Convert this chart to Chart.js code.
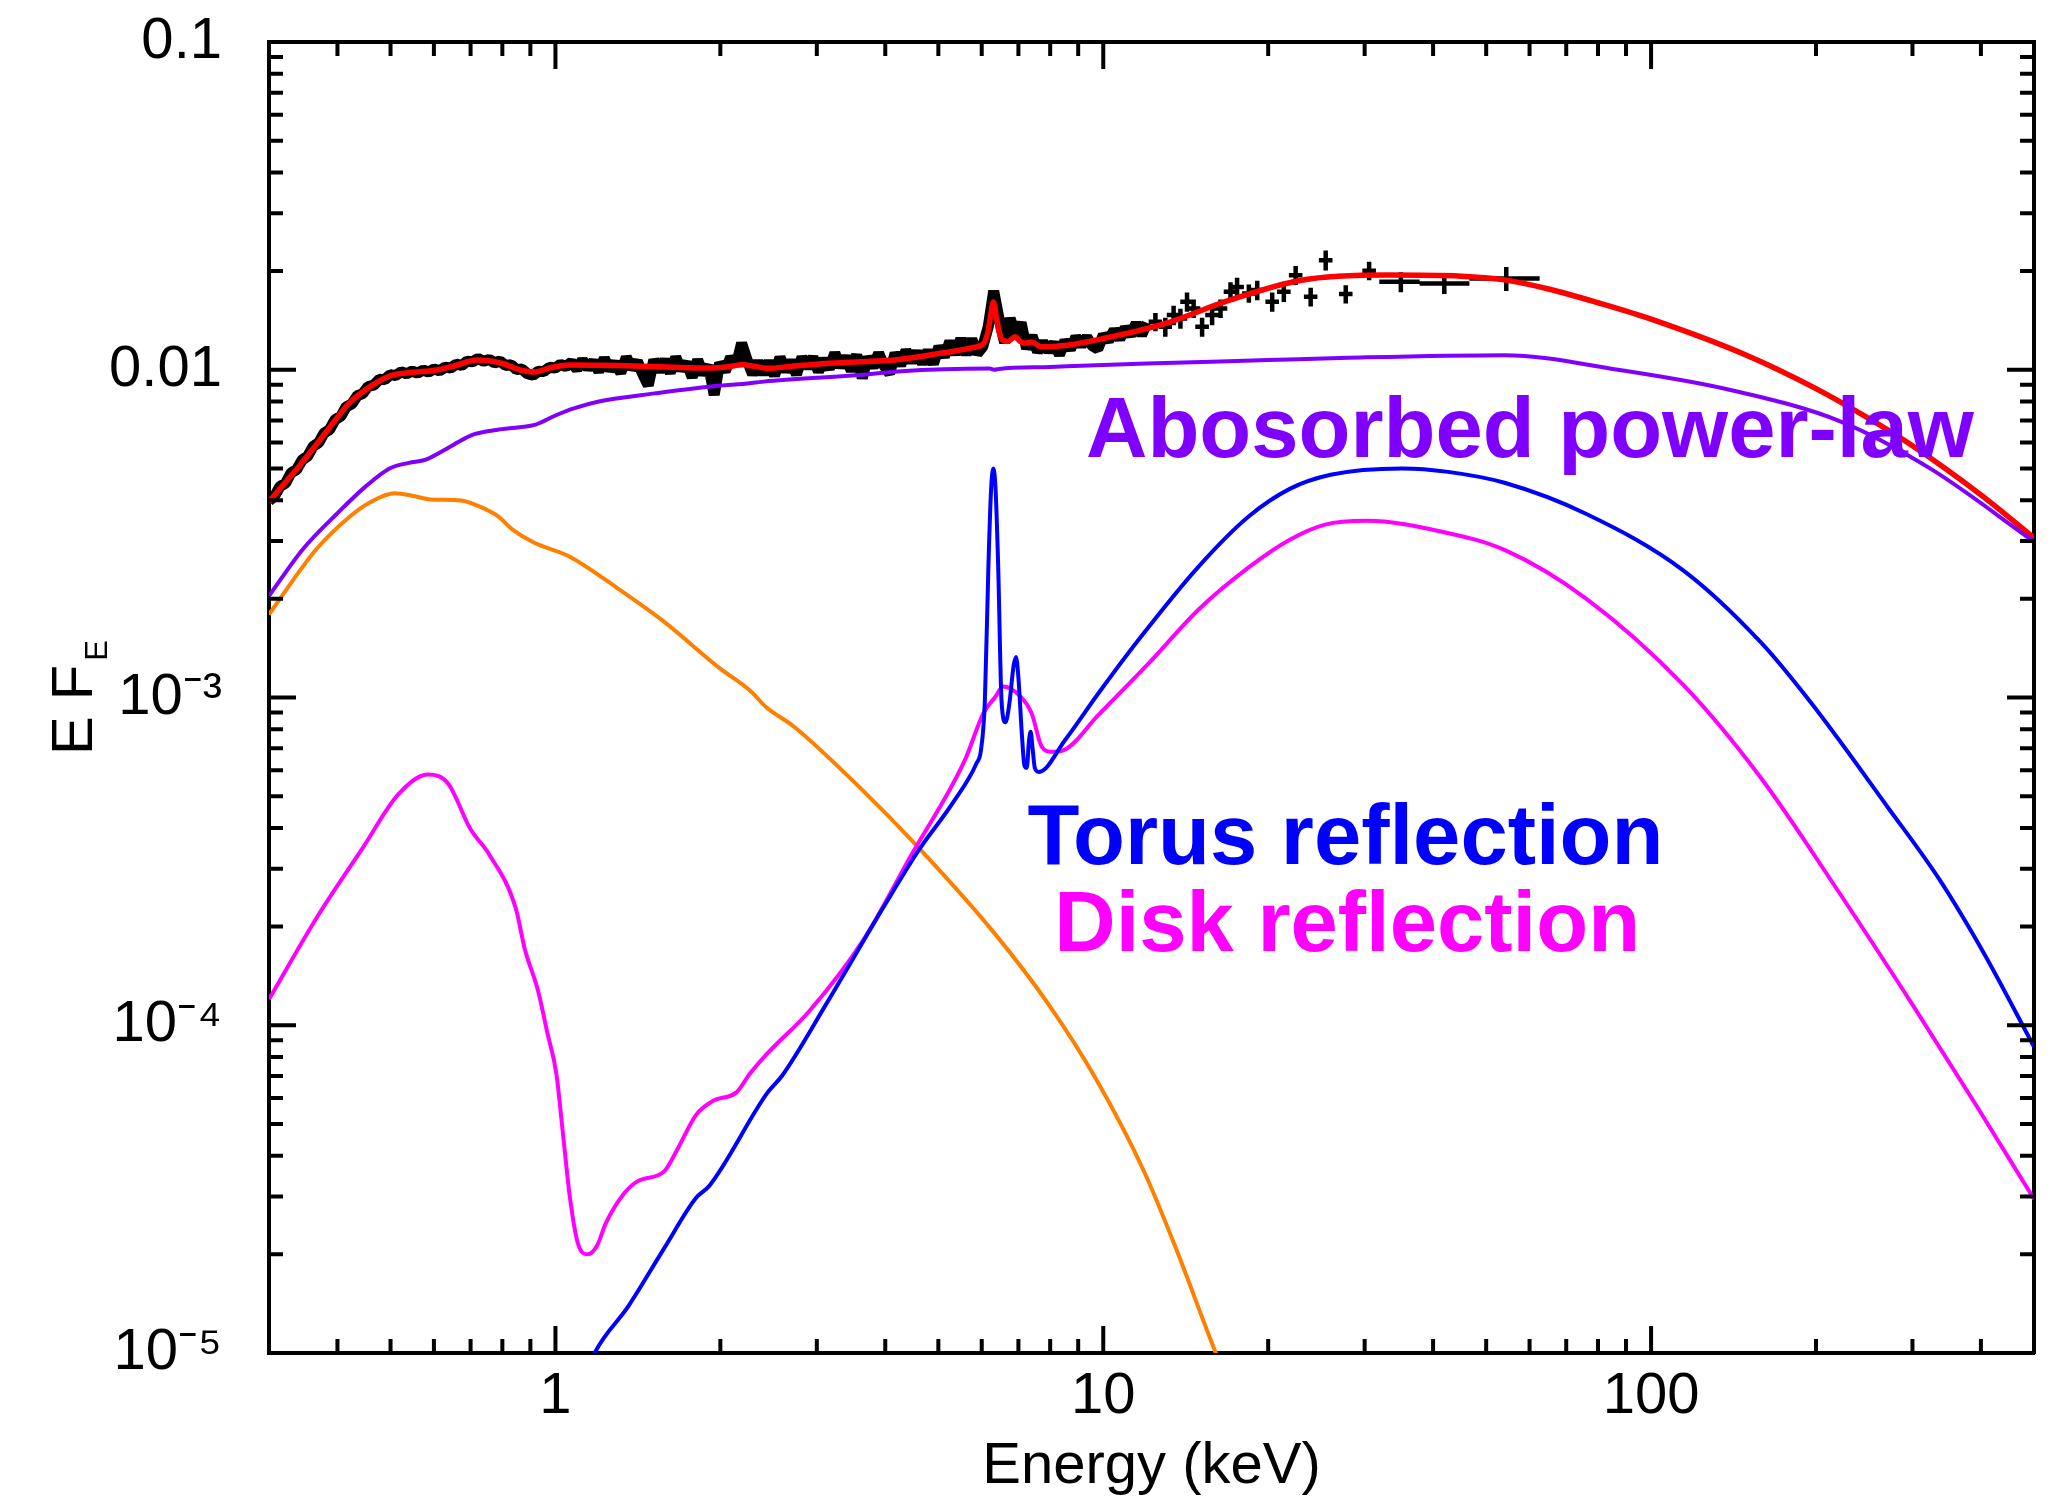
<!DOCTYPE html>
<html>
<head>
<meta charset="utf-8">
<title>Broadband X-ray spectrum: model components</title>
<script src="https://cdn.jsdelivr.net/npm/chart.js@4.4.1/dist/chart.umd.min.js"></script>
<style>
  html, body { margin: 0; padding: 0; background: #ffffff; }
  canvas { display: block; }
</style>
</head>
<body>
<canvas id="spec" width="2050" height="1502" style="width:2050px;height:1502px"></canvas>
<script>
const FONT = '"Liberation Sans", Arial, Helvetica, sans-serif';

// Axis ranges and labelled ticks
const X_MIN = 0.3, X_MAX = 500;
const Y_MIN = 1e-5, Y_MAX = 0.1;
const xTickValues = [1, 10, 100];
const xTickLabels = ['1', '10', '100'];
const yTickValues = [1e-5, 1e-4, 1e-3, 1e-2, 1e-1];
const yTickLabels = ['10\u207B\u2075', '10\u207B\u2074', '10\u207B\u00B3', '0.01', '0.1'];

// Unfolded spectrum, finely binned (keV, E F_E)
const dataE = [
  0.300,0.307,0.314,0.322,0.329,0.337,0.345,0.353,0.361,0.370,
  0.378,0.387,0.396,0.406,0.415,0.425,0.435,0.445,0.455,0.466,
  0.477,0.488,0.499,0.511,0.523,0.535,0.548,0.560,0.574,0.587,
  0.600,0.614,0.629,0.644,0.659,0.674,0.690,0.706,0.722,0.739,
  0.757,0.774,0.792,0.811,0.830,0.849,0.869,0.889,0.910,0.931,
  0.953,0.975,0.998,1.021,1.045,
  1.070,1.095,1.120,1.146,1.173,1.200,1.228,1.257,1.286,1.316,
  1.347,1.378,1.411,1.444,1.477,1.512,1.547,1.583,1.620,1.658,
  1.697,1.736,1.777,1.818,1.861,1.904,1.949,1.994,2.041,2.088,
  2.137,2.187,2.238,2.290,2.343,2.398,2.454,2.511,2.570,2.630,
  2.691,2.754,2.818,2.884,2.951,3.020,3.090,3.162,3.236,3.311,
  3.388,3.467,3.548,3.631,3.715,3.802,3.890,3.981,4.074,4.169,
  4.266,4.365,4.467,4.571,4.677,4.786,4.898,5.012,5.129,5.248,
  5.370,5.495,5.623,5.754,5.888,
  6.026,6.166,6.310,6.457,6.607,6.761,6.918,7.079,7.244,7.413,7.586,7.762,7.943,
  8.128,8.318,8.511,8.710,8.913,9.120,9.333,9.550,9.772,10.00,
  10.23,10.47,10.72,10.96,11.22,11.48,11.75,12.02
];
const dataF = [
  0.00398,0.00411,0.00440,0.00452,0.00484,0.00496,0.00531,0.00545,0.00583,0.00600,
  0.00641,0.00657,0.00704,0.00722,0.00771,0.00787,0.00834,0.00846,0.00889,0.00897,
  0.00935,0.00933,0.00966,0.00960,0.00986,0.00972,0.00992,0.00976,0.00998,0.00983,
  0.01006,0.00992,0.01019,0.01011,0.01041,0.01030,0.01062,0.01058,0.01082,0.01062,
  0.01075,0.01049,0.01063,0.01030,0.01036,0.01001,0.01005,0.00972,0.00962,0.00990,
  0.00988,0.01018,0.01012,0.01038,0.01022,
  0.01055,0.01003,0.01071,0.01010,0.01061,0.00989,0.01082,0.00999,0.01051,0.00979,
  0.01092,0.01009,0.01061,0.00968,0.00896,0.01071,0.00989,0.01071,0.00979,0.01091,
  0.01000,0.01051,0.00949,0.01071,0.00969,0.01031,0.00838,0.01050,0.00989,0.01092,
  0.01030,0.01206,0.01071,0.00968,0.01061,0.00970,0.01061,0.00960,0.01091,0.00989,
  0.01066,0.00968,0.01092,0.01014,0.01092,0.00988,0.01076,0.01008,0.01124,0.01019,
  0.01097,0.00992,0.01110,0.00943,0.01092,0.01018,0.01124,0.01028,0.00974,0.01124,
  0.01032,0.01145,0.01057,0.01134,0.01045,0.01143,0.01043,0.01176,0.01096,0.01220,
  0.01117,0.01242,0.01114,0.01240,0.01121,
  0.01175,0.01352,0.01740,0.01420,0.01208,0.01435,0.01265,0.01392,0.01160,0.01270,0.01135,0.01215,0.01140,
  0.01205,0.01112,0.01227,0.01154,0.01260,0.01186,0.01258,0.01183,0.01156,0.01277,
  0.01225,0.01323,0.01242,0.01342,0.01274,0.01386,0.01277,0.01390
];

// Hard X-ray bins: centre, bin edges, flux and 1-sigma error
const binE  = [12.45,12.98,13.44,13.83,14.22,14.62,15.15,15.80,16.37,17.07,17.55,18.44,19.10,20.34,21.36,22.45,23.91,25.47,27.71,30.57,34.93,41.93,54.4];
const binLo = [12.10,12.62,13.06,13.44,13.82,14.21,14.72,15.35,15.91,16.59,17.06,17.92,18.56,19.77,20.76,21.82,23.24,24.75,26.93,29.71,31.9,37.8,46.6];
const binHi = [12.80,13.35,13.83,14.23,14.63,15.04,15.59,16.26,16.84,17.56,18.06,18.97,19.65,20.93,21.98,23.10,24.60,26.21,28.51,31.46,37.8,46.6,62.6];
const binF  = [0.01400,0.01352,0.01468,0.01434,0.01612,0.01539,0.01352,0.01468,0.01539,0.01729,0.01790,0.01710,0.01750,0.01612,0.01729,0.01944,0.01670,0.02160,0.01702,0.02004,0.01855,0.01834,0.01899];
const binErr = [0.0009,0.0009,0.0010,0.0010,0.0011,0.0010,0.0009,0.0010,0.0010,0.0012,0.0012,0.0011,0.0012,0.0011,0.0012,0.0013,0.0011,0.0015,0.0011,0.0013,0.0013,0.0013,0.0016];

// Total model
const modelE = [0.30,0.32,0.34,0.38,0.42,0.46,0.50,0.55,0.60,0.65,0.72,0.80,0.87,0.92,0.97,1.06,1.3,1.6,1.9,2.05,2.2,2.3,2.45,2.7,3.0,3.6,4.2,5.0,5.8,6.05,6.15,6.22,6.30,6.38,6.46,6.55,6.70,6.90,7.05,7.20,7.40,7.70,8.5,10,13,17,23,33,45,54,65,80,100,150,200,250,300,400,500];
const modelF = [0.00396,0.00450,0.00506,0.00640,0.00790,0.00890,0.00960,0.00982,0.00995,0.01025,0.01070,0.01045,0.00995,0.00985,0.01010,0.01034,0.01030,0.01020,0.01012,0.01020,0.01035,0.01025,0.01010,0.01025,0.01040,0.01057,0.01072,0.01120,0.01170,0.01205,0.01290,0.01440,0.01610,0.01450,0.01300,0.01230,0.01220,0.01260,0.01220,0.01205,0.01215,0.01175,0.01185,0.01245,0.01385,0.01630,0.01876,0.01945,0.01930,0.01880,0.01763,0.01601,0.01427,0.01104,0.00876,0.00709,0.00586,0.00415,0.00307];

// Absorbed power-law
const powE = [0.30,0.345,0.40,0.45,0.498,0.54,0.58,0.64,0.70,0.78,0.86,0.92,1.0,1.08,1.2,1.52,2.0,2.2,2.4,3.59,4.22,6.2,6.32,6.45,8.0,12,20,28,54,87,139,222,323,500];
const powF = [0.00204,0.00282,0.00365,0.00440,0.00500,0.00520,0.00532,0.00580,0.00630,0.00655,0.00668,0.00680,0.00725,0.00762,0.00800,0.00847,0.00895,0.00905,0.00920,0.00964,0.00988,0.01008,0.01000,0.01006,0.01020,0.01045,0.01070,0.01088,0.01108,0.01000,0.00869,0.00695,0.00500,0.00299];

// Soft component
const softE = [0.30,0.33,0.365,0.42,0.46,0.509,0.55,0.592,0.673,0.72,0.786,0.834,0.913,1.062,1.30,1.588,1.98,2.28,2.42,2.73,3.55,4.61,6.36,7.94,9.70,11.87,13.66,16.05,17.0];
const softF = [0.00179,0.00225,0.00282,0.00355,0.00395,0.00420,0.00412,0.00402,0.00399,0.00385,0.00357,0.00326,0.00297,0.00269,0.00215,0.00169,0.00124,0.00104,0.000937,0.000813,0.000542,0.000347,0.000189,0.000116,0.0000685,0.0000358,0.0000203,0.0000100,0.0000080];

// Disk reflection
const diskE = [0.30,0.368,0.4446,0.517,0.585,0.637,0.70,0.756,0.846,0.879,0.93,0.966,1.004,1.033,1.063,1.10,1.146,1.19,1.236,1.333,1.411,1.581,1.673,1.805,1.945,2.14,2.264,2.44,2.90,3.64,4.46,5.59,6.04,6.34,6.57,7.09,7.40,7.72,8.05,8.45,9.80,12.1,14.9,18.4,21.9,25.4,30.2,41.7,54.0,76.2,114.6,158.2,218.4,301.6,390.3,500];
const diskF = [1.20e-4,2.15e-4,3.47e-4,5.07e-4,5.82e-4,5.46e-4,3.96e-4,3.33e-4,2.28e-4,1.71e-4,1.27e-4,9.52e-5,7.10e-5,4.60e-5,2.97e-5,2.15e-5,2.00e-5,2.12e-5,2.49e-5,3.06e-5,3.34e-5,3.59e-5,4.21e-5,5.32e-5,5.89e-5,6.24e-5,7.11e-5,8.22e-5,1.10e-4,1.81e-4,3.30e-4,6.44e-4,8.95e-4,1.00e-3,1.08e-3,1.00e-3,8.95e-4,7.08e-4,6.83e-4,6.90e-4,8.85e-4,1.27e-3,1.85e-3,2.49e-3,3.03e-3,3.37e-3,3.46e-3,3.20e-3,2.82e-3,2.00e-3,1.09e-3,5.72e-4,2.60e-4,1.14e-4,5.77e-5,2.95e-5];

// Torus reflection
const torusE = [1.15,1.179,1.359,1.58,1.805,1.91,2.44,2.59,3.13,4.0,4.62,5.29,5.87,5.98,6.08,6.17,6.24,6.30,6.36,6.43,6.52,6.63,6.74,6.86,6.93,7.00,7.10,7.18,7.25,7.32,7.37,7.43,7.50,7.63,8.52,9.80,11.6,14.9,18.4,21.9,26.0,35.1,42.6,54.0,76.2,114.6,158.2,196.2,270.8,335.7,407.4,500];
const torusF = [9.0e-6,1.0e-5,1.39e-5,2.09e-5,2.97e-5,3.24e-5,6.24e-5,7.0e-5,1.17e-4,2.34e-4,3.45e-4,4.72e-4,6.3e-4,6.9e-4,9.8e-4,2.5e-3,4.3e-3,5.0e-3,4.3e-3,2.5e-3,9.8e-4,8.4e-4,9.6e-4,1.25e-3,1.33e-3,1.15e-3,7.8e-4,6.2e-4,6.1e-4,7.4e-4,7.86e-4,7.0e-4,6.1e-4,5.93e-4,7.42e-4,1.03e-3,1.50e-3,2.50e-3,3.56e-3,4.33e-3,4.78e-3,5.00e-3,4.88e-3,4.52e-3,3.63e-3,2.44e-3,1.48e-3,9.6e-4,4.61e-4,2.79e-4,1.63e-4,8.6e-5];

// Component captions, anchored at (keV, E F_E) of their left baseline
const captions = [
  { text: 'Abosorbed power-law', color: '#8000FF', x: 9.30, y: 0.00541 },
  { text: 'Torus reflection',    color: '#0000FF', x: 7.27, y: 3.10e-4 },
  { text: 'Disk reflection',     color: '#FF00FF', x: 8.14, y: 1.69e-4 }
];

function pts(xs, ys) { return xs.map((x, i) => ({ x: x, y: ys[i] })); }

// decade (major) and 2..9 (minor) tick positions inside [min, max]
function logTicks(min, max) {
  const out = [];
  const d0 = Math.floor(Math.log10(min)), d1 = Math.ceil(Math.log10(max));
  for (let d = d0; d <= d1; d++) {
    for (let m = 1; m < 10; m++) {
      const v = m * Math.pow(10, d);
      if (v < min * 0.999 || v > max * 1.001) continue;
      out.push({ value: v, major: m === 1 });
    }
  }
  return out;
}
function labelFor(values, labels, v) {
  for (let i = 0; i < values.length; i++) {
    if (Math.abs(Math.log10(v) - Math.log10(values[i])) < 1e-6) return labels[i];
  }
  return '';
}

// fixed axis box sizes so the frame sits at a set place on the canvas
function fixBox(size) {
  return s => {
    if (s.isHorizontal()) { s.height = size; } else { s.width = size; }
    s.paddingTop = 0; s.paddingBottom = 0; s.paddingLeft = 0; s.paddingRight = 0;
  };
}

// inward tick marks on all four sides of the frame
const frameTicks = {
  id: 'frameTicks',
  afterDraw(chart) {
    const { ctx, chartArea: a } = chart;
    const xs = chart.scales.x, ys = chart.scales.y;
    ctx.save();
    ctx.strokeStyle = '#000';
    ctx.lineWidth = 4;
    ctx.lineCap = 'butt';
    ctx.beginPath();
    xs.ticks.forEach(t => {
      const p = xs.getPixelForValue(t.value);
      if (p <= a.left + 2 || p >= a.right - 2) return;
      const len = t.major ? 27 : 14;
      ctx.moveTo(p, a.bottom); ctx.lineTo(p, a.bottom - len);
      ctx.moveTo(p, a.top); ctx.lineTo(p, a.top + len);
    });
    ys.ticks.forEach(t => {
      const p = ys.getPixelForValue(t.value);
      if (p <= a.top + 2 || p >= a.bottom - 2) return;
      const len = t.major ? 27 : 14;
      ctx.moveTo(a.left, p); ctx.lineTo(a.left + len, p);
      ctx.moveTo(a.right, p); ctx.lineTo(a.right - len, p);
    });
    ctx.stroke();
    ctx.restore();
  }
};

// crosses (bin width x flux error) for the hard X-ray bins
const binCrosses = {
  id: 'binCrosses',
  afterDatasetDraw(chart, args) {
    if (chart.data.datasets[args.index].id !== 'bins') return;
    const { ctx } = chart;
    const xs = chart.scales.x, ys = chart.scales.y;
    ctx.save();
    ctx.strokeStyle = '#000';
    ctx.lineWidth = 4.5;
    ctx.lineCap = 'butt';
    ctx.beginPath();
    for (let i = 0; i < binE.length; i++) {
      const px = xs.getPixelForValue(binE[i]);
      const py = ys.getPixelForValue(binF[i]);
      ctx.moveTo(xs.getPixelForValue(binLo[i]), py);
      ctx.lineTo(xs.getPixelForValue(binHi[i]), py);
      ctx.moveTo(px, ys.getPixelForValue(binF[i] + binErr[i]));
      ctx.lineTo(px, ys.getPixelForValue(binF[i] - binErr[i]));
    }
    ctx.stroke();
    ctx.restore();
  }
};

// component captions and the E F_E axis title
const textLayer = {
  id: 'textLayer',
  afterDraw(chart) {
    const { ctx, chartArea: a } = chart;
    const xs = chart.scales.x, ys = chart.scales.y;
    ctx.save();
    ctx.textAlign = 'left';
    ctx.textBaseline = 'alphabetic';
    ctx.font = 'bold 85px ' + FONT;
    captions.forEach(c => {
      ctx.fillStyle = c.color;
      ctx.fillText(c.text, xs.getPixelForValue(c.x), ys.getPixelForValue(c.y));
    });

    // rotated "E F" with subscript E
    ctx.fillStyle = '#000';
    ctx.font = '58px ' + FONT;
    const main = 'E F';
    const wMain = ctx.measureText(main).width;
    ctx.font = '31px ' + FONT;
    const wSub = ctx.measureText('E').width;
    const total = wMain + 4 + wSub;
    const cy = (a.top + a.bottom) / 2;
    ctx.translate(91.5, cy + total / 2);
    ctx.rotate(-Math.PI / 2);
    ctx.font = '58px ' + FONT;
    ctx.fillText(main, 0, 0);
    ctx.font = '31px ' + FONT;
    ctx.fillText('E', wMain + 4, 15.5);
    ctx.restore();
  }
};

const lineStyle = (color, width, order) => ({
  borderColor: color,
  backgroundColor: color,
  borderWidth: width,
  pointRadius: 0,
  fill: false,
  cubicInterpolationMode: 'monotone',
  order: order
});

const hiddenGrid = { display: true, drawOnChartArea: false, drawTicks: false };
const frameBorder = { display: true, color: '#000', width: 4 };

new Chart(document.getElementById('spec'), {
  type: 'line',
  data: {
    datasets: [
      Object.assign({ id: 'data', label: 'Data', data: pts(dataE, dataF) },
        { borderColor: '#000', borderWidth: 11, pointRadius: 0, tension: 0, borderJoinStyle: 'bevel', fill: false, order: 7 }),
      { id: 'bins', label: 'Data (hard X-ray bins)', data: pts(binE, binF), showLine: false, pointRadius: 0, order: 6 },
      Object.assign({ label: 'Total model', data: pts(modelE, modelF) }, lineStyle('#FF0000', 5.5, 5)),
      Object.assign({ label: 'Abosorbed power-law', data: pts(powE, powF) }, lineStyle('#8000FF', 4, 4)),
      Object.assign({ label: 'Soft component', data: pts(softE, softF) }, lineStyle('#FF8000', 4, 3)),
      Object.assign({ label: 'Disk reflection', data: pts(diskE, diskF) }, lineStyle('#FF00FF', 4, 2)),
      Object.assign({ label: 'Torus reflection', data: pts(torusE, torusF) }, lineStyle('#0000FF', 4, 1))
    ]
  },
  options: {
    responsive: false,
    animation: false,
    events: [],
    layout: { padding: 0 },
    plugins: { legend: { display: false }, tooltip: { enabled: false } },
    scales: {
      x: {
        type: 'logarithmic', position: 'bottom', min: X_MIN, max: X_MAX,
        afterBuildTicks: s => { s.ticks = logTicks(X_MIN, X_MAX); },
        afterFit: fixBox(149),
        grid: hiddenGrid, border: frameBorder,
        ticks: {
          autoSkip: false, maxRotation: 0, minRotation: 0, padding: 9, color: '#000',
          font: { family: FONT, size: 58 },
          callback: v => labelFor(xTickValues, xTickLabels, v)
        },
        title: { display: true, text: 'Energy (keV)', color: '#000', font: { family: FONT, size: 58 }, padding: { top: 0, bottom: 0 } }
      },
      xTop: {
        type: 'logarithmic', position: 'top', min: X_MIN, max: X_MAX,
        afterFit: fixBox(42),
        grid: hiddenGrid, border: frameBorder, ticks: { display: false }
      },
      y: {
        type: 'logarithmic', position: 'left', min: Y_MIN, max: Y_MAX,
        afterBuildTicks: s => { s.ticks = logTicks(Y_MIN, Y_MAX); },
        afterFit: fixBox(269),
        grid: hiddenGrid, border: frameBorder,
        ticks: {
          autoSkip: false, padding: 47, color: '#000',
          font: { family: FONT, size: 58 },
          callback: v => labelFor(yTickValues, yTickLabels, v)
        }
      },
      yRight: {
        type: 'logarithmic', position: 'right', min: Y_MIN, max: Y_MAX,
        afterFit: fixBox(16),
        grid: hiddenGrid, border: frameBorder, ticks: { display: false }
      }
    }
  },
  plugins: [binCrosses, frameTicks, textLayer]
});
</script>
</body>
</html>
